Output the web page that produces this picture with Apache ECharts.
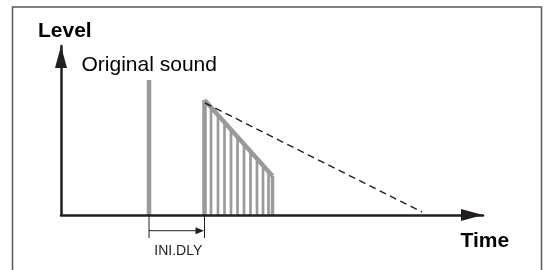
<!DOCTYPE html>
<html>
<head>
<meta charset="utf-8">
<script src="https://cdn.jsdelivr.net/npm/echarts@6/dist/echarts.min.js"></script>
<style>
  html, body { margin: 0; padding: 0; background: #fff; }
  #chart { width: 547px; height: 270px; }
</style>
</head>
<body>
<div id="chart"></div>
<script>
// time / level in arbitrary units (schematic)
const originalTime = [88]
const originalLevel = [135]

const reflectionTime = [143.5, 150, 157, 163.5, 170, 176.5, 183, 189.5, 196, 202, 207.5, 211.5]
const reflectionLevel = [115, 107.5, 100, 92.5, 85.5, 78, 71, 63.5, 56.5, 49.5, 43.5, 39]

// dashed decay line
const decayTime = [144, 361]
const decayLevel = [112, 3]

const axisNames = ['Time', 'Level']
const originalLabel = 'Original sound'
const delayLabel = 'INI.DLY'

const GRAY = '#9a9a9a'
const INK = '#231f20'
const FONT = '"Liberation Sans", Arial, Helvetica, sans-serif'

const chart = echarts.init(document.getElementById('chart'))

function zip(xs, ys) {
  return xs.map((x, i) => [x, ys[i]])
}

function stem(widthFor) {
  return function (params, api) {
    const top = api.coord([api.value(0), api.value(1)])
    const base = api.coord([api.value(0), 0])
    return {
      type: 'line',
      shape: { x1: top[0], y1: top[1], x2: base[0], y2: base[1] },
      style: { stroke: GRAY, lineWidth: widthFor(params.dataIndex) },
    }
  }
}

const n = reflectionTime.length

const axisLine = {
  show: true,
  symbol: ['none', 'triangle'],
  lineStyle: { color: INK, width: 2.5 },
}

chart.setOption({
  animation: false,
  grid: { left: 61, right: 64, top: 46, bottom: 55 },
  xAxis: {
    type: 'value',
    min: 0,
    max: 422,
    axisLine: { ...axisLine, symbolSize: [12, 22], symbolOffset: [0, -11] },
    axisTick: { show: false },
    axisLabel: { show: false },
    splitLine: { show: false },
  },
  yAxis: {
    type: 'value',
    min: 0,
    max: 169,
    axisLine: { ...axisLine, symbolSize: [12, 22], symbolOffset: [0, -11] },
    axisTick: { show: false },
    axisLabel: { show: false },
    splitLine: { show: false },
  },
  series: [
    {
      name: originalLabel,
      type: 'custom',
      z: -1,
      clip: false,
      data: zip(originalTime, originalLevel),
      renderItem: stem(() => 4.5),
    },
    {
      name: 'Reflections',
      type: 'custom',
      z: -1,
      clip: false,
      data: zip(reflectionTime, reflectionLevel),
      renderItem: stem((i) => (i === 0 ? 4.5 : i === n - 1 ? 3.5 : 2.7)),
    },
    {
      name: 'Envelope',
      type: 'line',
      z: -1,
      symbol: 'none',
      lineStyle: { color: GRAY, width: 4.5 },
      data: [
        [reflectionTime[0], reflectionLevel[0]],
        [reflectionTime[n - 1], reflectionLevel[n - 1]],
      ],
    },
    {
      name: 'Decay',
      type: 'line',
      symbol: 'none',
      lineStyle: { color: INK, width: 1.4, type: [7, 4.5] },
      data: zip(decayTime, decayLevel),
    },
    {
      name: delayLabel,
      type: 'custom',
      clip: false,
      data: [[originalTime[0], reflectionTime[0]]],
      renderItem: function (params, api) {
        const a = api.coord([api.value(0), 0])
        const b = api.coord([api.value(1), 0])
        const y0 = a[1] + 1
        const ya = a[1] + 15.7
        return {
          type: 'group',
          children: [
            { type: 'line', shape: { x1: a[0], y1: y0, x2: a[0], y2: a[1] + 23 }, style: { stroke: INK, lineWidth: 1 } },
            { type: 'line', shape: { x1: b[0], y1: y0, x2: b[0], y2: b[1] + 23 }, style: { stroke: INK, lineWidth: 1 } },
            { type: 'line', shape: { x1: a[0], y1: ya, x2: b[0] - 6, y2: ya }, style: { stroke: INK, lineWidth: 1 } },
            {
              type: 'polygon',
              shape: { points: [[b[0] - 0.5, ya], [b[0] - 9, ya - 3.5], [b[0] - 9, ya + 3.5]] },
              style: { fill: INK },
            },
            {
              type: 'text',
              style: {
                text: delayLabel,
                x: (a[0] + b[0]) / 2 + 1.5,
                y: a[1] + 36.5,
                align: 'center',
                verticalAlign: 'middle',
                font: '14px ' + FONT,
                fill: '#222',
              },
            },
          ],
        }
      },
    },
  ],
  graphic: [
    {
      type: 'rect',
      shape: { x: 12.5, y: 7, width: 529, height: 300 },
      style: { fill: 'none', stroke: '#5a5a5a', lineWidth: 1.5 },
    },
    {
      type: 'text',
      style: { text: axisNames[1], x: 38, y: 31.7, verticalAlign: 'middle', font: 'bold 21px ' + FONT, fill: '#000' },
    },
    {
      type: 'text',
      style: { text: originalLabel, x: 81.5, y: 65, verticalAlign: 'middle', font: '21px ' + FONT, fill: '#000' },
    },
    {
      type: 'text',
      style: { text: axisNames[0], x: 460.5, y: 240.8, verticalAlign: 'middle', font: 'bold 21px ' + FONT, fill: '#000' },
    },
  ],
})

window.addEventListener('resize', () => chart.resize())
</script>
</body>
</html>
